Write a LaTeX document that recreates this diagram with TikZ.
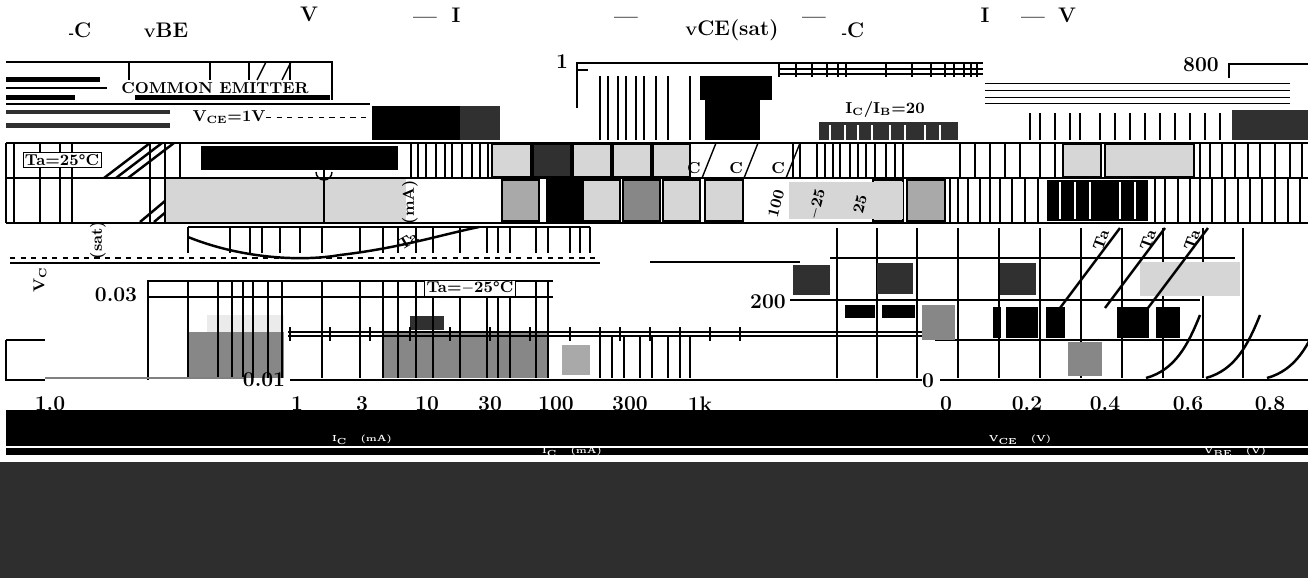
\documentclass[tikz,border=0pt]{standalone}
\usepackage{tikz}
\usetikzlibrary{positioning}
\definecolor{plate}{HTML}{2E2E2E}
\definecolor{lightcell}{HTML}{D6D6D6}
\definecolor{midcell}{HTML}{A9A9A9}
\definecolor{greycell}{HTML}{878787}
\definecolor{darkcell}{HTML}{303030}
\tikzset{frame/.style={line width=1.5pt}}
\tikzset{grid line/.style={line width=0.8pt}}
\tikzset{thin grid/.style={line width=0.4pt}}
\tikzset{curve/.style={line width=1.4pt}}
\tikzset{tick label/.style={font=\bfseries\large, inner sep=1pt}}
\tikzset{title label/.style={font=\bfseries\large, inner sep=1pt}}
\tikzset{small label/.style={font=\bfseries\small, inner sep=1pt}}
\tikzset{turned label/.style={font=\bfseries\small, inner sep=0pt}}
\tikzset{band label/.style={font=\bfseries\tiny, text=white, inner sep=1pt}}
\tikzset{cell/.style={draw=black, line width=0.6pt}}
\tikzset{bars/.style={line width=1.2pt}}

\begin{document}
\begin{tikzpicture}[x=0.02cm, y=-0.02cm]
    \useasboundingbox (0, 0) rectangle (1308, 578);
    \fill[white] (0, 0) rectangle (1308, 578);

    % titles
    \node[title label] (ic left) at (80, 30) {{\scriptsize -}C};
    \node[title label] (vbe left) at (166, 30) {{\scriptsize V}BE};
    \node[title label] (v mid) at (309, 14) {V};
    \node[title label] (dash a) at (425, 20) {---};
    \node[title label] (i mid) at (456, 15) {I};
    \node[title label] (dash b) at (626, 20) {---};
    \node[title label] (vce sat) at (732, 30) {{\scriptsize V}CE(sat)};
    \node[title label] (dash c) at (814, 20) {---};
    \node[title label] (ic mid) at (853, 30) {{\scriptsize -}C};
    \node[title label] (i right) at (985, 15) {I};
    \node[title label] (dash d) at (1033, 20) {---};
    \node[title label] (v right) at (1067, 15) {V};

    % upper band, left graph
    \draw[frame] (6, 62) -- (332, 62) -- (332, 100);
    \foreach \x in {129, 210, 249, 290}
        \draw[grid line] (\x, 62) -- (\x, 80);
    \draw[grid line] (257, 80) -- (266, 62);
    \draw[grid line] (282, 80) -- (291, 62);
    \fill (6, 77) rectangle (100, 82);
    \draw[grid line] (6, 88) -- (107, 88);
    \fill (6, 95) rectangle (75, 100);
    \fill (135, 95) rectangle (330, 100);
    \node[small label] (common emitter) at (215, 88) {COMMON EMITTER};
    \draw[grid line] (6, 104) -- (370, 104);
    \fill[darkcell] (6, 110) rectangle (170, 114);
    \fill[darkcell] (6, 123) rectangle (170, 128);
    \node[small label] (vce one) at (229, 117) {V\textsubscript{CE}=1V};
    \draw[thin grid, dashed] (266, 117) -- (370, 117);

    % upper band, middle graph
    \node[tick label] (one) at (562, 62) {1};
    \draw[frame] (577, 108) -- (577, 63) -- (983, 63);
    \draw[grid line] (577, 70) -- (588, 70);
    \foreach \x in {779, 796, 812, 827, 838, 846, 886, 912, 931, 945, 954, 964, 971, 977}
        \draw[grid line] (\x, 63) -- (\x, 77);
    \draw[grid line] (779, 69) -- (983, 69);
    \draw[grid line] (779, 74) -- (983, 74);
    \foreach \x in {600, 608, 618, 626, 636, 644, 656, 668, 690}
        \draw[bars] (\x, 76) -- (\x, 140);
    \fill (700, 76) rectangle (772, 100);
    \fill (705, 100) rectangle (760, 140);
    \fill (372, 106) rectangle (460, 140);
    \fill[darkcell] (460, 106) rectangle (500, 140);
    \fill[darkcell] (819, 122) rectangle (958, 140);
    \foreach \x in {830, 845, 858, 872, 890, 905, 925, 940}
        \draw[white, bars] (\x, 125) -- (\x, 140);
    \node[small label, fill=white] (ic ib) at (885, 110) {I\textsubscript{C}/I\textsubscript{B}=20};

    % upper band, right graph
    \node[tick label] (eight hundred) at (1201, 65) {800};
    \draw[frame] (1229, 78) -- (1229, 64) -- (1308, 64);
    \foreach \y in {83, 90, 97, 103}
        \draw[thin grid] (985, \y) -- (1290, \y);
    \foreach \x in {1030, 1040, 1055, 1070, 1080, 1100, 1115, 1130, 1145, 1160, 1175, 1190, 1205, 1220}
        \draw[bars] (\x, 113) -- (\x, 140);
    \fill[darkcell] (1232, 110) rectangle (1308, 140);

    % cell band, row one
    \draw[grid line] (6, 143) -- (1308, 143);
    \draw[grid line] (6, 178) -- (1308, 178);
    \draw[grid line] (6, 223) -- (1308, 223);
    \fill (201, 146) rectangle (398, 170);
    \foreach \x in {6, 14, 40, 60, 72, 150, 165, 180}
        \draw[bars] (\x, 143) -- (\x, 223);
    \node[small label, draw, fill=white] (ta hot) at (62, 160) {Ta=25\textdegree C};
    \foreach \dx in {0, 12, 24}
        \draw[curve] (104+\dx, 178) -- (150+\dx, 143);
    \foreach \dx in {0, 14, 28}
        \draw[curve] (140+\dx, 222) -- (190+\dx, 180);
    \foreach \x in {411, 418, 426, 436, 445, 452, 462, 472, 480, 488}
        \draw[bars] (\x, 143) -- (\x, 178);
    \foreach \a/\b/\c in {492/531/lightcell, 533/571/darkcell, 573/611/lightcell, 613/651/lightcell, 653/690/lightcell, 1063/1101/lightcell, 1105/1194/lightcell}
        \fill[\c, cell] (\a, 144) rectangle (\b, 177);
    \foreach \x in {793, 800, 817, 825, 833, 840, 850, 858, 866, 875, 886, 895, 903, 960, 975, 990, 1005, 1020, 1040, 1055, 1200, 1210, 1222, 1235, 1248, 1260, 1275, 1290, 1302}
        \draw[bars] (\x, 143) -- (\x, 178);
    \foreach \dx in {0, 42, 84}
        \draw[grid line] (702+\dx, 178) -- (716+\dx, 143);
    \node[small label] (c one) at (694, 168) {C};
    \node[small label] (c two) at (736, 168) {C};
    \node[small label] (c three) at (778, 168) {C};

    % cell band, row two
    \fill[lightcell] (166, 179) rectangle (406, 222);
    \draw[grid line] (324, 222) -- (324, 170);
    \draw[grid line] (316, 172) arc (180:0:8);
    \node[turned label, rotate=90] (ma left) at (410, 202) {(mA)};
    \foreach \a/\b/\c in {502/539/midcell, 547/582/black, 583/620/lightcell, 623/660/greycell, 663/700/lightcell, 705/743/lightcell, 873/903/lightcell, 907/945/midcell}
        \fill[\c, cell] (\a, 180) rectangle (\b, 221);
    \fill[lightcell] (789, 182) rectangle (903, 219);
    \node[turned label, rotate=75] (hundred) at (776, 204) {100};
    \node[turned label, rotate=75] (minus twentyfive) at (817, 204) {$-$25};
    \node[turned label, rotate=75] (twentyfive) at (860, 204) {25};
    \foreach \x in {950, 958, 968, 980, 990, 1000, 1012, 1025, 1038}
        \draw[bars] (\x, 178) -- (\x, 223);
    \fill (1047, 180) rectangle (1148, 221);
    \foreach \x in {1060, 1075, 1090, 1120, 1135}
        \draw[white, bars] (\x, 182) -- (\x, 219);
    \foreach \x in {1155, 1165, 1178, 1190, 1200, 1212, 1225, 1238, 1250, 1262, 1275, 1288, 1300}
        \draw[bars] (\x, 178) -- (\x, 223);

    % lower left graph, upper strip
    \draw[grid line] (188, 227) -- (590, 227);
    \foreach \x in {188, 230, 250, 262, 280, 300, 322, 360, 383, 398, 416, 433, 460, 487, 498, 510, 536, 548, 570, 580, 590}
        \draw[grid line] (\x, 227) -- (\x, 253);
    \draw[curve] (188, 237) .. controls (240, 258) and (300, 262) .. (340, 255) .. controls (400, 248) and (440, 235) .. (479, 227);
    \node[turned label, rotate=30] (ta mid) at (408, 241) {Ta};
    \draw[grid line, dashed] (10, 258) -- (600, 258);
    \draw[grid line] (10, 263) -- (600, 263);
    \draw[grid line] (650, 262) -- (800, 262);
    \node[turned label, rotate=90] (vc axis) at (40, 280) {V\textsubscript{C}};
    \node[turned label, rotate=90] (sat axis) at (98, 240) {(sat)};

    % lower left graph frame
    \node[tick label] (zero zero three) at (116, 295) {0.03};
    \draw[frame] (148, 380) -- (148, 281) -- (553, 281);
    \draw[grid line] (148, 297) -- (553, 297);
    \fill[greycell] (188, 332) rectangle (284, 378);
    \fill[lightcell!50] (207, 315) rectangle (284, 332);
    \fill[greycell] (384, 332) rectangle (548, 378);
    \fill[darkcell] (410, 316) rectangle (444, 330);
    \foreach \x in {188, 218, 232, 243, 253, 268, 282, 322, 360, 383, 398, 416, 433, 460, 487, 498, 510, 536, 548}
        \draw[grid line] (\x, 281) -- (\x, 378);
    \node[small label, draw, fill=white] (ta cold) at (470, 288) {Ta=$-$25\textdegree C};
    \draw[grid line] (288, 332) -- (930, 332);
    \draw[grid line] (288, 336) -- (930, 336);
    \foreach \x in {290, 330, 370, 410, 450, 490, 530, 570, 600, 620, 650, 680, 710, 740}
        \draw[grid line] (\x, 327) -- (\x, 341);
    \fill[midcell] (562, 345) rectangle (590, 375);
    \foreach \x in {600, 612, 624, 640, 652, 668, 680, 690}
        \draw[grid line] (\x, 336) -- (\x, 378);
    \draw[frame] (6, 340) -- (45, 340);
    \draw[frame] (6, 340) -- (6, 380) -- (45, 380);
    \draw[grid line, gray] (45, 378) -- (245, 378);
    \node[tick label] (zero zero one) at (264, 380) {0.01};
    \draw[frame] (290, 380) -- (922, 380);

    % lower right graph
    \node[tick label] (two hundred) at (768, 302) {200};
    \foreach \x in {837, 877, 917, 958, 999, 1040, 1081, 1122, 1163, 1203, 1243}
        \draw[grid line] (\x, 228) -- (\x, 378);
    \draw[grid line] (830, 258) -- (1235, 258);
    \draw[grid line] (790, 300) -- (1200, 300);
    \draw[grid line] (935, 340) -- (1308, 340);
    \foreach \a/\b/\p/\q/\c in {793/830/265/295/darkcell, 877/913/263/294/darkcell, 1000/1036/263/295/darkcell, 845/875/305/318/black, 882/915/305/318/black, 922/955/305/340/greycell, 993/1001/307/338/black, 1006/1038/307/338/black, 1046/1065/307/338/black, 1117/1149/307/338/black, 1156/1180/307/338/black, 1068/1102/342/376/greycell, 1140/1240/262/296/lightcell}
        \fill[\c] (\a, \p) rectangle (\b, \q);
    \foreach \dx in {0, 45, 88}
        \draw[curve] (1120+\dx, 228) -- (1060+\dx, 308);
    \node[turned label, rotate=70] (ta one) at (1101, 240) {Ta};
    \node[turned label, rotate=70] (ta two) at (1148, 240) {Ta};
    \node[turned label, rotate=70] (ta three) at (1192, 240) {Ta};
    \foreach \dx in {0, 60, 121}
        \draw[curve] (1146+\dx, 378) .. controls (1175+\dx, 370) and (1188+\dx, 345) .. (1200+\dx, 315);
    \node[tick label] (zero right) at (928, 381) {0};
    \draw[frame] (940, 380) -- (1308, 380);

    % tick labels
    \foreach \x/\t/\n in {50/1.0/a, 297/1/b, 362/3/c, 427/10/d, 490/30/e, 556/100/f, 630/300/g, 700/1k/h, 946/0/i, 1027/0.2/j, 1105/0.4/k, 1188/0.6/l, 1270/0.8/m}
        \node[tick label] (tick \n) at (\x, 404) {\t};

    % dark bands
    \fill (6, 410) rectangle (1308, 446);
    \fill (6, 448) rectangle (1308, 455);
    \node[band label] (ic band) at (362, 440) {I\textsubscript{C} \quad (mA)};
    \node[band label] (vce band) at (1020, 440) {V\textsubscript{CE} \quad (V)};
    \node[band label] (ic band two) at (572, 452) {I\textsubscript{C} \quad (mA)};
    \node[band label] (vbe band) at (1235, 452) {V\textsubscript{BE} \quad (V)};
    \fill[plate] (0, 462) rectangle (1308, 578);
\end{tikzpicture}
\end{document}
